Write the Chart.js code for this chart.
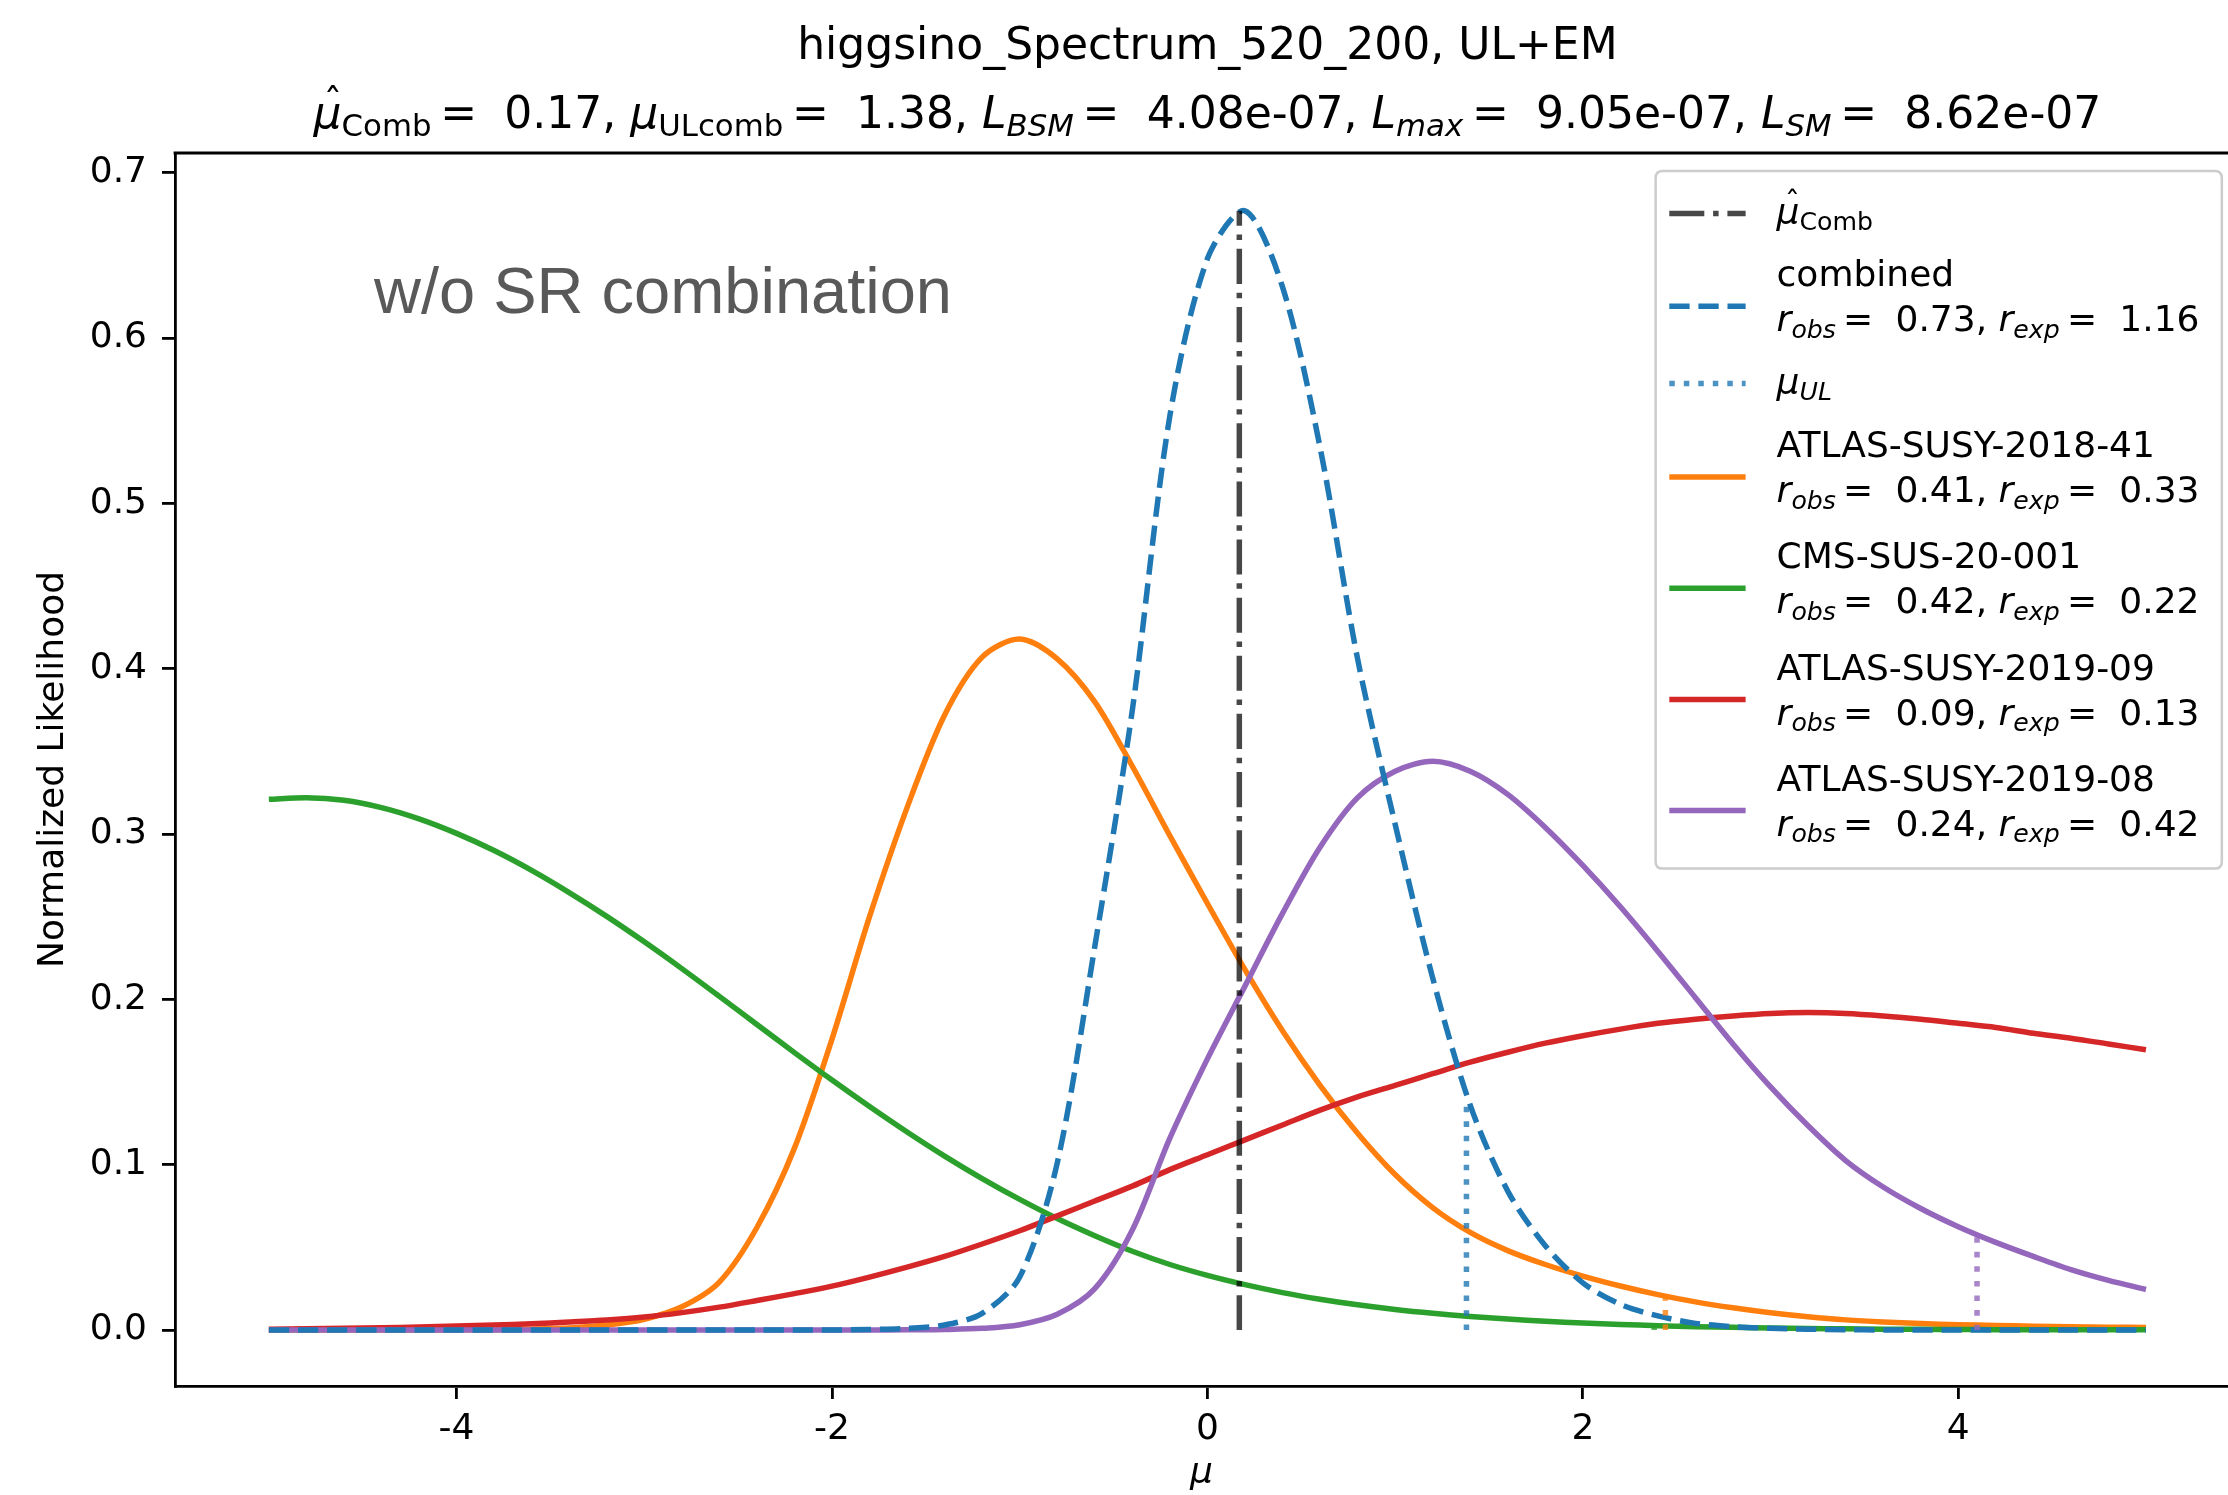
<!DOCTYPE html>
<html><head><meta charset="utf-8">
<script src="https://cdn.jsdelivr.net/npm/chart.js@4.4.1/dist/chart.umd.min.js"></script>
<style>html,body{margin:0;padding:0;background:#fff;overflow:hidden}canvas{display:block}</style>
</head><body>
<canvas id="c" width="2228" height="1495" style="width:2228px;height:1495px"></canvas>
<script>
// ---------------- data ----------------
const MU = [-5.0,-4.8,-4.6,-4.4,-4.2,-4.0,-3.8,-3.6,-3.4,-3.2,-3.0,-2.8,-2.6,-2.4,-2.2,-2.0,-1.8,-1.6,-1.4,-1.2,-1.0,-0.8,-0.6,-0.4,-0.2,0.0,0.2,0.4,0.6,0.8,1.0,1.2,1.4,1.6,1.8,2.0,2.2,2.4,2.6,2.8,3.0,3.2,3.4,3.6,3.8,4.0,4.2,4.4,4.6,4.8,5.0];
const COMBINED = [0,0,0,0,0,0,0,0,0,0,0,0,0,0,0,0,0.0003,0.001,0.003,0.010,0.032,0.101,0.232,0.375,0.553,0.648,0.677,0.631,0.534,0.406,0.306,0.213,0.136,0.084,0.051,0.0285,0.0155,0.0085,0.004,0.002,0.001,0.0005,0.0002,0,0,0,0,0,0,0,0];
const ATLAS_2018_41 = [0,0,0,0,0,0.0001,0.0002,0.0005,0.0012,0.003,0.0065,0.014,0.029,0.062,0.110,0.176,0.250,0.316,0.372,0.407,0.418,0.406,0.380,0.341,0.299,0.258,0.218,0.181,0.148,0.119,0.094,0.074,0.059,0.048,0.0396,0.0326,0.0266,0.0214,0.017,0.0134,0.0104,0.008,0.0061,0.0048,0.0039,0.0032,0.0027,0.0023,0.002,0.0017,0.0015];
const CMS_20_001 = [0.321,0.322,0.3204,0.316,0.3092,0.3004,0.290,0.278,0.2646,0.2502,0.2348,0.2186,0.2018,0.1848,0.1678,0.1512,0.1352,0.1198,0.1052,0.0916,0.079,0.0674,0.057,0.0476,0.0396,0.033,0.0274,0.0226,0.0186,0.0152,0.0124,0.0101,0.0082,0.0066,0.0053,0.0042,0.0033,0.0026,0.002,0.0016,0.0012,0.0009,0.0007,0.0005,0.0004,0.0003,0.0002,0.0002,0.0001,0.0001,0.0001];
const ATLAS_2019_09 = [0.0005,0.0007,0.001,0.0013,0.0018,0.0024,0.003,0.0038,0.0048,0.006,0.0078,0.0105,0.0138,0.0178,0.022,0.0265,0.032,0.038,0.0445,0.052,0.060,0.069,0.078,0.087,0.097,0.106,0.115,0.124,0.133,0.141,0.148,0.155,0.162,0.168,0.1735,0.178,0.182,0.1855,0.188,0.190,0.1915,0.192,0.1915,0.190,0.188,0.1855,0.183,0.1795,0.1765,0.173,0.1695];
const ATLAS_2019_08 = [0,0,0,0,0,0,0,0,0,0,0,0,0,0,0,0,0,0.0001,0.0003,0.001,0.0032,0.0095,0.025,0.0605,0.116,0.164,0.208,0.252,0.292,0.322,0.338,0.344,0.338,0.324,0.304,0.281,0.256,0.229,0.201,0.173,0.147,0.1235,0.1025,0.0865,0.0735,0.0625,0.053,0.0445,0.0365,0.030,0.0245];

const ANALYSES = ['ATLAS-SUSY-2018-41','CMS-SUS-20-001','ATLAS-SUSY-2019-09','ATLAS-SUSY-2019-08'];
const R_OBS = ['0.73','0.41','0.42','0.09','0.24'];   // combined first
const R_EXP = ['1.16','0.33','0.22','0.13','0.42'];

const MU_HAT = 0.17, MU_HAT_TOP = 0.677;            // dash-dot line
const UL_MU   = [1.38, 2.44, 2.38, 4.10];            // combined, 2018-41, 20-001, 2019-08
const UL_TOP  = [0.140, 0.020, 0.003, 0.058];

const TITLE1 = 'higgsino_Spectrum_520_200, UL+EM';
const T_MUHAT = '0.17', T_MUUL = '1.38', T_LBSM = '4.08e-07', T_LMAX = '9.05e-07', T_LSM = '8.62e-07';
const ANNOT = {text:'w/o SR combination', x:-4.44, y:0.615};

const X_TICKS = [-4,-2,0,2,4];
const Y_TICKS = [0,0.1,0.2,0.3,0.4,0.5,0.6,0.7];
const X_MIN = -5.5, X_FULL_MAX = 5.5, X_MAX = 5.437;   // axis continues past the photo's right edge
const Y_MIN = -0.0339, Y_MAX = 0.712;

// ---------------- style ----------------
const FONT = '"DejaVu Sans", sans-serif';
const F = 36, FT = 44;
const LW = 5.5;
const C0='#1f77b4', C1='#ff7f0e', C2='#2ca02c', C3='#d62728', C4='#9467bd';
const DARK = 'rgba(0,0,0,0.72)';
const DASHED = [20.3, 8.8], DASHDOT = [35, 8.8, 5.5, 8.8], DOTTED = [5.5, 9];
const UL_COLORS = ['rgba(31,119,180,0.8)','rgba(255,127,14,0.8)','rgba(44,160,44,0.8)','rgba(148,103,189,0.8)'];
const SUB = 0.7, SUB_SHIFT = 0.18;

function series(vals){ return MU.map((m,i)=>({x:m, y:vals[i]})); }
function vline(x, top){ return [{x:x, y:0},{x:x, y:top}]; }

const datasets = [];
datasets.push({data: vline(MU_HAT, MU_HAT_TOP), borderColor: DARK, borderDash: DASHDOT, order: 0});
UL_MU.forEach((m,i)=>datasets.push({data: vline(m, UL_TOP[i]), borderColor: UL_COLORS[i], borderDash: DOTTED, order: 1}));
datasets.push({data: series(COMBINED), borderColor: C0, borderDash: DASHED, order: 2});
datasets.push({data: series(ATLAS_2019_08), borderColor: C4, order: 3});
datasets.push({data: series(ATLAS_2019_09), borderColor: C3, order: 4});
datasets.push({data: series(CMS_20_001), borderColor: C2, order: 5});
datasets.push({data: series(ATLAS_2018_41), borderColor: C1, order: 6});
datasets.forEach(d=>{ d.borderWidth = LW; d.pointRadius = 0; d.fill = false; d.tension = 0.3; d.borderCapStyle = 'butt'; });

// ---------------- rich (math-like) text ----------------
function segFont(s, size){ return (s.it ? 'italic ' : '') + (s.sub ? size*SUB : size) + 'px ' + FONT; }
function richWidth(ctx, segs, size){
  let w = 0;
  for (const s of segs){
    if (s.sp !== undefined){ w += s.sp*size; continue; }
    ctx.font = segFont(s, size); w += ctx.measureText(s.t).width;
  }
  return w;
}
function drawRich(ctx, segs, x, y, size, color){
  ctx.fillStyle = color; ctx.textBaseline = 'alphabetic';
  let cx = x;
  for (const s of segs){
    if (s.sp !== undefined){ cx += s.sp*size; continue; }
    ctx.font = segFont(s, size); ctx.textAlign = 'left';
    const w = ctx.measureText(s.t).width;
    ctx.fillText(s.t, cx, s.sub ? y + SUB_SHIFT*size : y);
    if (s.hat){
      ctx.font = (size*0.85) + 'px ' + FONT; ctx.textAlign = 'center';
      ctx.fillText('\u02C6', cx + w/2 + 0.12*size, y - 0.3*size);
      ctx.textAlign = 'left';
    }
    cx += w;
  }
}
const EQ = [{sp:0.2},{t:'='},{sp:0.3}];
function rLine(o, e){
  return [{t:'r',it:1},{t:'obs',it:1,sub:1},...EQ,{t:' '+o+', '},{t:'r',it:1},{t:'exp',it:1,sub:1},...EQ,{t:' '+e}];
}
const TITLE2 = [{t:'\u03BC',it:1,hat:1},{t:'Comb',sub:1},...EQ,{t:' '+T_MUHAT+', '},
  {t:'\u03BC',it:1},{t:'ULcomb',sub:1},...EQ,{t:' '+T_MUUL+', '},
  {t:'L',it:1},{t:'BSM',it:1,sub:1},...EQ,{t:' '+T_LBSM+', '},
  {t:'L',it:1},{t:'max',it:1,sub:1},...EQ,{t:' '+T_LMAX+', '},
  {t:'L',it:1},{t:'SM',it:1,sub:1},...EQ,{t:' '+T_LSM}];

const LEGEND = [
  {color: DARK, dash: DASHDOT, lines: [[{t:'\u03BC',it:1,hat:1},{t:'Comb',sub:1}]]},
  {color: C0, dash: DASHED, lines: [[{t:'combined'}], rLine(R_OBS[0], R_EXP[0])]},
  {color: UL_COLORS[0], dash: DOTTED, lines: [[{t:'\u03BC',it:1},{t:'UL',it:1,sub:1}]]},
  {color: C1, dash: [], lines: [[{t:ANALYSES[0]}], rLine(R_OBS[1], R_EXP[1])]},
  {color: C2, dash: [], lines: [[{t:ANALYSES[1]}], rLine(R_OBS[2], R_EXP[2])]},
  {color: C3, dash: [], lines: [[{t:ANALYSES[2]}], rLine(R_OBS[3], R_EXP[3])]},
  {color: C4, dash: [], lines: [[{t:ANALYSES[3]}], rLine(R_OBS[4], R_EXP[4])]},
];
const LEG_HANDLE_EM = [1.178, 3.758, 5.903, 8.5, 11.589, 14.678, 17.767];
const LEG_HEIGHT_EM = 19.378;
const LEG_PAD_L = 0.38, LEG_HANDLE_LEN = 2.12, LEG_TEXT_PAD = 0.86, LEG_PAD_R = 0.62;

function roundRect(ctx, x, y, w, h, r){
  ctx.beginPath();
  ctx.moveTo(x+r, y); ctx.lineTo(x+w-r, y); ctx.quadraticCurveTo(x+w, y, x+w, y+r);
  ctx.lineTo(x+w, y+h-r); ctx.quadraticCurveTo(x+w, y+h, x+w-r, y+h);
  ctx.lineTo(x+r, y+h); ctx.quadraticCurveTo(x, y+h, x, y+h-r);
  ctx.lineTo(x, y+r); ctx.quadraticCurveTo(x, y, x+r, y); ctx.closePath();
}

const decor = {
  id: 'decor',
  afterDraw(chart){
    const ctx = chart.ctx, ca = chart.chartArea, xs = chart.scales.x, ys = chart.scales.y;
    const axRight = xs.getPixelForValue(X_FULL_MAX);
    const axCenter = xs.getPixelForValue((X_MIN + X_FULL_MAX)/2);
    ctx.save();
    // top spine
    ctx.strokeStyle = '#000'; ctx.lineWidth = 2.8; ctx.setLineDash([]);
    ctx.beginPath(); ctx.moveTo(ca.left - 1.4, ca.top); ctx.lineTo(ca.right, ca.top); ctx.stroke();
    // titles
    ctx.fillStyle = '#000'; ctx.font = FT + 'px ' + FONT; ctx.textAlign = 'center'; ctx.textBaseline = 'alphabetic';
    ctx.fillText(TITLE1, axCenter, ca.top - 94);
    const w2 = richWidth(ctx, TITLE2, FT);
    drawRich(ctx, TITLE2, axCenter - w2/2, ca.top - 25, FT, '#000');
    // annotation
    ctx.font = '65px "Liberation Sans", Arial, sans-serif'; ctx.fillStyle = '#595959'; ctx.textAlign = 'left';
    ctx.fillText(ANNOT.text, xs.getPixelForValue(ANNOT.x), ys.getPixelForValue(ANNOT.y));
    // legend
    let maxW = 0;
    LEGEND.forEach(it => it.lines.forEach(l => { maxW = Math.max(maxW, richWidth(ctx, l, F)); }));
    const legW = (LEG_PAD_L + LEG_HANDLE_LEN + LEG_TEXT_PAD + LEG_PAD_R)*F + maxW;
    const legR = axRight - 0.5*F, legL = legR - legW, legT = ca.top + 0.5*F, legH = LEG_HEIGHT_EM*F;
    roundRect(ctx, legL, legT, legW, legH, 0.2*F);
    ctx.fillStyle = 'rgba(255,255,255,0.8)'; ctx.fill();
    ctx.strokeStyle = '#cccccc'; ctx.lineWidth = 2.5; ctx.stroke();
    const hx0 = legL + LEG_PAD_L*F, hx1 = hx0 + LEG_HANDLE_LEN*F, tx = hx1 + LEG_TEXT_PAD*F;
    LEGEND.forEach((it, i) => {
      const hy = legT + LEG_HANDLE_EM[i]*F;
      ctx.strokeStyle = it.color; ctx.lineWidth = LW; ctx.setLineDash(it.dash); ctx.lineCap = 'butt';
      ctx.beginPath(); ctx.moveTo(hx0, hy); ctx.lineTo(hx1, hy); ctx.stroke();
      ctx.setLineDash([]);
      if (it.lines.length === 1){
        drawRich(ctx, it.lines[0], tx, hy + 0.29*F, F, '#000');
      } else {
        drawRich(ctx, it.lines[0], tx, hy - 0.55*F, F, '#000');
        drawRich(ctx, it.lines[1], tx, hy + 0.7*F, F, '#000');
      }
    });
    ctx.restore();
  }
};

new Chart(document.getElementById('c'), {
  type: 'line',
  data: { datasets },
  options: {
    responsive: false, devicePixelRatio: 1, animation: false, events: [],
    layout: { padding: { top: 153, left: 0, right: 0, bottom: 0 } },
    plugins: { legend: {display:false}, title: {display:false}, tooltip: {enabled:false} },
    scales: {
      x: {
        type: 'linear', min: X_MIN, max: X_MAX,
        afterBuildTicks: s => { s.ticks = X_TICKS.map(v => ({value: v})); },
        afterFit: s => { s.height = 109; },
        ticks: { font: {family: FONT, size: F}, color: '#000', padding: 9, maxRotation: 0, autoSkip: false,
                 callback: v => String(v) },
        grid: { drawOnChartArea: false, drawTicks: true, tickLength: 13, tickColor: '#000', lineWidth: 2.8 },
        border: { display: true, color: '#000', width: 2.8 },
        title: { display: true, text: '\u03BC', color: '#000', font: {family: FONT, size: F, style: 'italic'}, padding: {top: 0, bottom: 0} }
      },
      y: {
        type: 'linear', min: Y_MIN, max: Y_MAX,
        afterBuildTicks: s => { s.ticks = Y_TICKS.map(v => ({value: v})); },
        afterFit: s => { s.width = 175; },
        ticks: { font: {family: FONT, size: F}, color: '#000', padding: 15, autoSkip: false,
                 callback: v => Number(v).toFixed(1) },
        grid: { drawOnChartArea: false, drawTicks: true, tickLength: 13, tickColor: '#000', lineWidth: 2.8 },
        border: { display: true, color: '#000', width: 2.8 },
        title: { display: true, text: 'Normalized Likelihood', color: '#000', font: {family: FONT, size: F}, padding: {top: 32, bottom: 0} }
      }
    }
  },
  plugins: [decor]
});
</script>
</body></html>
